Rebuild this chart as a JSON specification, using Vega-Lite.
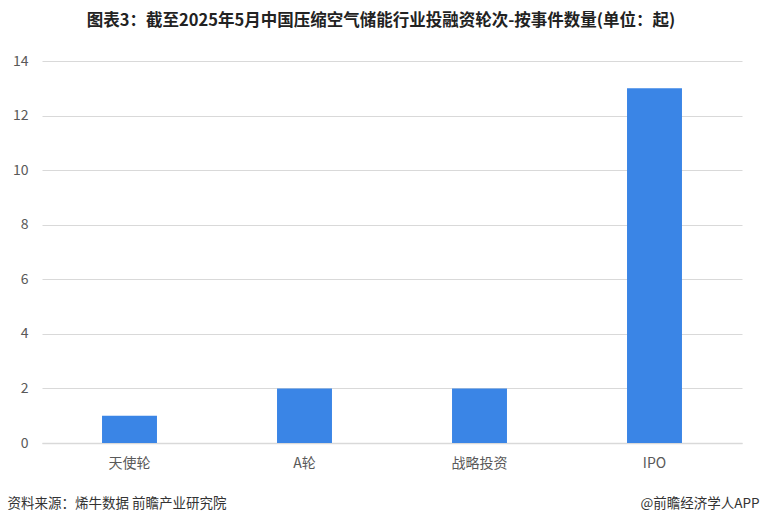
{
  "$schema": "https://vega.github.io/schema/vega-lite/v6.json",
  "width": 700,
  "height": 382,
  "autosize": {"type": "none"},
  "padding": {"left": 42, "top": 61, "right": 18, "bottom": 81},
  "background": "white",
  "title": {
    "text": "图表3：截至2025年5月中国压缩空气储能行业投融资轮次-按事件数量(单位：起)",
    "font": "Noto Sans CJK SC",
    "fontSize": 16.5,
    "fontWeight": "bold",
    "color": "#222222",
    "anchor": "middle",
    "frame": "group",
    "offset": 25,
    "dx": -11
  },
  "config": {
    "view": {"stroke": null},
    "font": "Noto Sans CJK SC"
  },
  "data": {
    "values": [
      {"round": "天使轮", "count": 1},
      {"round": "A轮", "count": 2},
      {"round": "战略投资", "count": 2},
      {"round": "IPO", "count": 13}
    ]
  },
  "mark": {"type": "bar", "color": "#3A85E6"},
  "encoding": {
    "x": {
      "field": "round",
      "type": "nominal",
      "sort": null,
      "scale": {"paddingInner": 0.686, "paddingOuter": 0.343},
      "axis": {
        "title": "资料来源：烯牛数据 前瞻产业研究院",
        "titleFont": "Noto Sans CJK SC",
        "titleFontSize": 13.5,
        "titleFontWeight": "normal",
        "titleColor": "#333333",
        "titleAnchor": "start",
        "titleAlign": "left",
        "titleBaseline": "middle",
        "titleX": -35,
        "titleY": 60,
        "labelAngle": 0,
        "labelFont": "Noto Sans CJK SC",
        "labelFontSize": 14,
        "labelColor": "#595959",
        "labelPadding": 13,
        "ticks": false,
        "domainColor": "#D9D9D9",
        "domainWidth": 1.5
      }
    },
    "y": {
      "field": "count",
      "type": "quantitative",
      "scale": {"domain": [0, 14]},
      "axis": {
        "values": [0, 2, 4, 6, 8, 10, 12, 14],
        "title": "@前瞻经济学人APP",
        "titleFont": "Noto Sans CJK SC",
        "titleFontSize": 13.5,
        "titleFontWeight": "normal",
        "titleColor": "#333333",
        "titleAngle": 0,
        "titleAlign": "right",
        "titleBaseline": "middle",
        "titleX": 717,
        "titleY": 442,
        "domain": false,
        "ticks": false,
        "labelFont": "Noto Sans CJK SC",
        "labelFontSize": 14,
        "labelColor": "#595959",
        "labelPadding": 14,
        "gridColor": "#D9D9D9",
        "gridWidth": 1.2
      }
    }
  }
}
